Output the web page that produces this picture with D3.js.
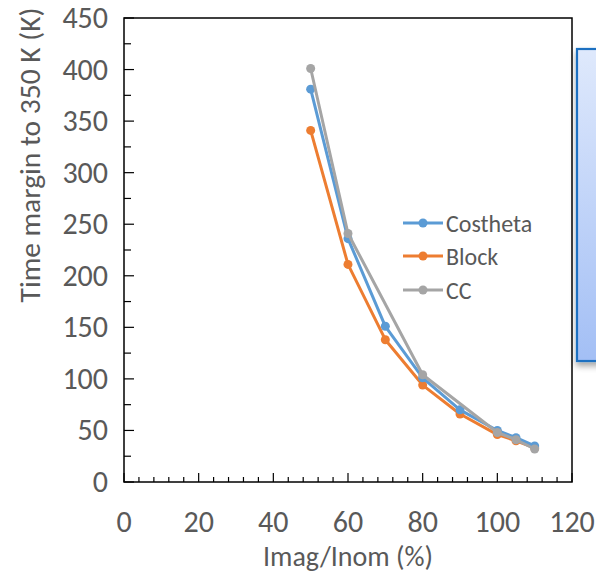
<!DOCTYPE html>
<html><head><meta charset="utf-8">
<script src="https://cdn.jsdelivr.net/npm/d3@7"></script>
<style>body{margin:0;background:#fff}svg{display:block}text{font-family:Carlito,Calibri,Lato,sans-serif;fill:#595959}</style>
</head><body><svg id="c" width="596" height="577"></svg>
<script>
const xCostheta = [50, 60, 70, 80, 90, 100, 105, 110];
const costheta = [381, 236, 151, 101, 70, 50, 43, 35];
const xBlock = [50, 60, 70, 80, 90, 100, 105, 110];
const block = [341, 211, 138, 94, 66, 46, 40, 33];
const xCC = [50, 60, 80, 100, 105, 110];
const cc = [401, 241, 104, 48, 41, 32];
const seriesNames = ["Costheta", "Block", "CC"];
const colors = ["#5b9bd5", "#ed7d31", "#a5a5a5"];
const xTicks = [0, 20, 40, 60, 80, 100, 120];
const yTicks = [0, 50, 100, 150, 200, 250, 300, 350, 400, 450];

const svg = d3.select("#c");
const L = 124, R = 572, T = 18, B = 482;
const x = d3.scaleLinear().domain([0, 120]).range([L, R]);
const y = d3.scaleLinear().domain([0, 450]).range([B, T]);

const defs = svg.append("defs");
const g = defs.append("linearGradient").attr("id", "bg").attr("x1", 0).attr("y1", 0).attr("x2", 0).attr("y2", 1);
g.append("stop").attr("offset", 0).attr("stop-color", "#dfe9fc");
g.append("stop").attr("offset", 1).attr("stop-color", "#a3bff5");
const f = defs.append("filter").attr("id", "sh").attr("x", "-20%").attr("y", "-5%").attr("width", "140%").attr("height", "115%");
f.append("feDropShadow").attr("dx", 0).attr("dy", 4).attr("stdDeviation", 3).attr("flood-color", "#000").attr("flood-opacity", 0.35);
svg.append("rect").attr("x", 577).attr("y", 49).attr("width", 40).attr("height", 312)
  .attr("fill", "url(#bg)").attr("stroke", "#1e6fc1").attr("stroke-width", 2.2).attr("filter", "url(#sh)");

svg.append("rect").attr("x", L).attr("y", T).attr("width", R - L).attr("height", B - T)
  .attr("fill", "none").attr("stroke", "#000").attr("stroke-width", 1.5);

const minorX = d3.range(0, 121, 4);
svg.append("g").selectAll("line").data(minorX).join("line")
  .attr("x1", d => x(d)).attr("x2", d => x(d)).attr("y1", B)
  .attr("y2", d => B - (d % 20 === 0 ? 9 : 5)).attr("stroke", "#000").attr("stroke-width", 1.2);
const minorY = d3.range(0, 451, 25);
svg.append("g").selectAll("line").data(minorY).join("line")
  .attr("y1", d => y(d)).attr("y2", d => y(d)).attr("x1", L)
  .attr("x2", d => L + (d % 50 === 0 ? 10 : 7)).attr("stroke", "#000").attr("stroke-width", 1.2);

svg.append("g").selectAll("text").data(xTicks).join("text")
  .attr("x", d => x(d)).attr("y", 532).attr("text-anchor", "middle").attr("font-size", 30).text(d => d);
svg.append("g").selectAll("text").data(yTicks).join("text")
  .attr("x", 108).attr("y", d => y(d) + 10).attr("text-anchor", "end").attr("font-size", 30).text(d => d);

svg.append("text").attr("x", x(60)).attr("y", 566).attr("text-anchor", "middle").attr("font-size", 28).text("Imag/Inom (%)");
svg.append("text").attr("transform", "translate(40,155) rotate(-90)").attr("text-anchor", "middle").attr("font-size", 29.5).text("Time margin to 350 K (K)");

const data = [
  xCostheta.map((d, i) => [d, costheta[i]]),
  xBlock.map((d, i) => [d, block[i]]),
  xCC.map((d, i) => [d, cc[i]])
];
const line = d3.line().x(d => x(d[0])).y(d => y(d[1]));
[1, 0, 2].forEach(k => {
  const s = svg.append("g");
  s.append("path").attr("d", line(data[k])).attr("fill", "none").attr("stroke", colors[k]).attr("stroke-width", 3).attr("stroke-linejoin", "round");
  s.selectAll("circle").data(data[k]).join("circle").attr("cx", d => x(d[0])).attr("cy", d => y(d[1])).attr("r", 4.5).attr("fill", colors[k]);
});

const ly = [223, 256, 290];
seriesNames.forEach((n, i) => {
  const lg = svg.append("g");
  lg.append("line").attr("x1", 403).attr("x2", 443).attr("y1", ly[i]).attr("y2", ly[i]).attr("stroke", colors[i]).attr("stroke-width", 3);
  lg.append("circle").attr("cx", 423).attr("cy", ly[i]).attr("r", 4.5).attr("fill", colors[i]);
  lg.append("text").attr("x", 446).attr("y", ly[i] + 8.5).attr("font-size", 24).text(n);
});
</script></body></html>
